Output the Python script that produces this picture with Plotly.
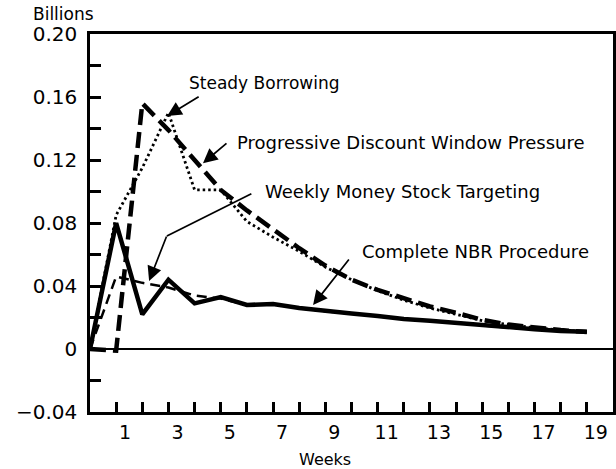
import plotly.graph_objects as go

weeks = list(range(20))
steady_borrowing = [0.0, 0.085, 0.115, 0.150, 0.101, 0.101, 0.081, 0.071, 0.062, 0.052,
                    0.044, 0.037, 0.031, 0.026, 0.022, 0.018, 0.0155, 0.0135, 0.012, 0.0108]
progressive_dwp = [0.0, -0.001, 0.156, 0.139, 0.120, 0.101, 0.088, 0.076, 0.064, 0.053,
                   0.044, 0.0375, 0.032, 0.027, 0.023, 0.0185, 0.0155, 0.0135, 0.012, 0.0108]
weekly_money = [0.0, 0.046, 0.042, 0.039, 0.034, 0.032, 0.028, 0.0285, 0.026, 0.024,
                0.0225, 0.021, 0.019, 0.018, 0.0165, 0.015, 0.0135, 0.0125, 0.0115, 0.011]
complete_nbr = [0.0, 0.080, 0.022, 0.044, 0.029, 0.033, 0.028, 0.0285, 0.026, 0.024,
                0.0225, 0.021, 0.019, 0.018, 0.0165, 0.015, 0.0135, 0.0125, 0.0115, 0.011]

x_tick_vals = [1, 3, 5, 7, 9, 11, 13, 15, 17, 19]
x_tick_text = ["1", "3", "5", "7", "9", "11", "13", "15", "17", "19"]
y_tick_vals = [-0.04, 0.0, 0.04, 0.08, 0.12, 0.16, 0.20]
y_tick_text = ["\u22120.04", "0", "0.04", "0.08", "0.12", "0.16", "0.20"]

FONT = "DejaVu Sans"

fig = go.Figure()
fig.add_trace(go.Scatter(x=weeks, y=complete_nbr, mode="lines",
                         line=dict(color="black", width=4.5), name="Complete NBR Procedure"))
fig.add_trace(go.Scatter(x=weeks, y=weekly_money, mode="lines",
                         line=dict(color="black", width=2.5, dash="10px,6px"),
                         name="Weekly Money Stock Targeting"))
fig.add_trace(go.Scatter(x=weeks, y=steady_borrowing, mode="lines",
                         line=dict(color="black", width=2.8, dash="2.5px,3px"),
                         name="Steady Borrowing"))
fig.add_trace(go.Scatter(x=weeks, y=progressive_dwp, mode="lines",
                         line=dict(color="black", width=4.5, dash="16px,7px"),
                         name="Progressive Discount Window Pressure"))

tf = dict(family=FONT, size=18, color="black")
ann = []
# labels
ann.append(dict(x=6.69, y=0.1689, text="Steady Borrowing", showarrow=False, font=dict(tf, size=17),
                xanchor="center", yanchor="middle"))
ann.append(dict(x=5.55, y=0.1308, text="Progressive Discount Window Pressure", showarrow=False,
                font=tf, xanchor="left", yanchor="middle"))
ann.append(dict(x=6.62, y=0.1003, text="Weekly Money Stock Targeting", showarrow=False,
                font=tf, xanchor="left", yanchor="middle"))
ann.append(dict(x=10.32, y=0.0616, text="Complete NBR Procedure", showarrow=False,
                font=tf, xanchor="left", yanchor="middle"))
arrow = dict(text="", showarrow=True, arrowhead=2, arrowsize=1.7, arrowwidth=1.7,
             arrowcolor="black", standoff=0, startstandoff=0)
ann.append(dict(arrow, x=2.95, y=0.148, ax=33, ay=-20))
ann.append(dict(arrow, x=4.32, y=0.118, ax=25, ay=-21))
ann.append(dict(arrow, x=2.94, y=0.0718, ax=86, ay=-43, arrowhead=0))
ann.append(dict(arrow, x=2.26, y=0.0432, ax=18, ay=-46))
ann.append(dict(arrow, x=8.53, y=0.0279, ax=37, ay=-47))
# axis titles
ann.append(dict(xref="paper", yref="paper", x=0.449, y=-0.125, text="Weeks", showarrow=False,
                font=dict(family=FONT, size=16, color="black"), xanchor="center", yanchor="middle",
                borderpad=0))
ann.append(dict(xref="paper", yref="paper", x=-0.111, y=1.052, text="Billions", showarrow=False,
                font=dict(family=FONT, size=17, color="black"), xanchor="left", yanchor="middle",
                borderpad=0))

fig.update_layout(
    width=616, height=469, autosize=False,
    margin=dict(l=90, r=3, t=34, b=57, autoexpand=False),
    paper_bgcolor="white", plot_bgcolor="white",
    showlegend=False,
    annotations=ann,
    xaxis=dict(range=[0, 20], tickvals=x_tick_vals, ticktext=x_tick_text, automargin=False,
               ticks="inside", ticklen=10, tickwidth=2.5, tickcolor="black",
               minor=dict(dtick=1, tick0=0, ticks="inside", ticklen=10, tickwidth=2.5,
                          tickcolor="black"),
               ticklabelshift=9, ticklabelstandoff=1,
               showline=True, linecolor="black", linewidth=2.5, mirror=True,
               showgrid=False, zeroline=False,
               tickfont=dict(family=FONT, size=19, color="black")),
    yaxis=dict(range=[-0.04, 0.20], tickvals=y_tick_vals, ticktext=y_tick_text, automargin=False,
               ticks="inside", ticklen=11, tickwidth=2.5, tickcolor="black",
               minor=dict(dtick=0.02, tick0=0, ticks="inside", ticklen=11, tickwidth=2.5,
                          tickcolor="black"),
               ticklabelstandoff=6,
               showline=True, linecolor="black", linewidth=2.5, mirror=True,
               showgrid=False, zeroline=True, zerolinecolor="black", zerolinewidth=2,
               tickfont=dict(family=FONT, size=20, color="black")),
)

post = ("document.body.style.margin='0';document.body.style.padding='0';"
        "document.body.style.overflow='hidden';"
        "document.documentElement.style.overflow='hidden';")
fig.write_html("out.html", config={"responsive": False, "displayModeBar": False},
               post_script=post)
